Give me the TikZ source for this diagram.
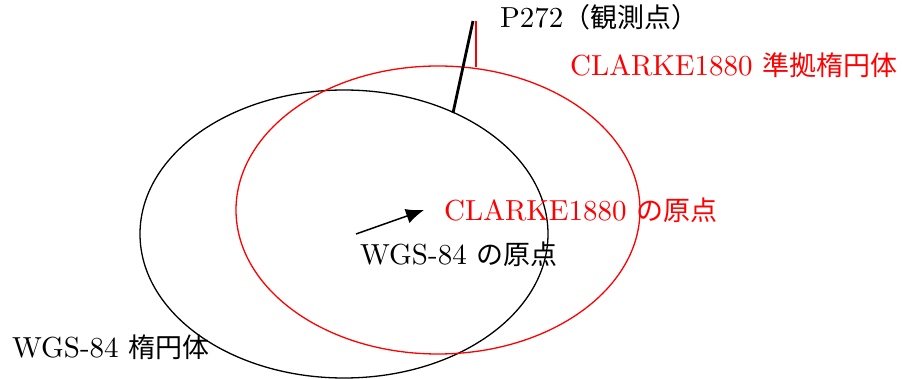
\documentclass[tikz,border=0pt]{standalone}
\usepackage{fontspec}
\usetikzlibrary{arrows.meta}
\setmainfont{lmroman10-regular.otf}
\newfontfamily\cjk{Noto Sans CJK JP}[Scale=0.93]
\tikzset{lbl/.style={inner sep=0pt, anchor=base west, font=\fontsize{29}{34}\selectfont}}
\begin{document}
\begin{tikzpicture}[x=1pt,y=-1pt]
\useasboundingbox (0,0) rectangle (902,379);
\draw[line width=1.3pt] (344,234) ellipse [x radius=204, y radius=144];
\draw[red, line width=1.3pt] (438,210) ellipse [x radius=202, y radius=144];
\coordinate (pb) at (453,113);
\coordinate (pt) at (473,21);
\draw[line width=2.8pt] (pb) -- (pt);
\coordinate (rb) at (476,67);
\coordinate (rt) at (476,21);
\draw[red, line width=2.4pt] (rb) -- (rt);
\coordinate (a0) at (356,234);
\coordinate (a1) at (424,210);
\draw[line width=1.5pt, -{Latex[length=18pt,width=15pt]}] (a0) -- (a1);
\node[lbl] (p272) at (500,28) {P272{\cjk（観測点）}};
\node[lbl, red] (clk) at (570,76) {CLARKE1880 {\cjk 準拠楕円体}};
\node[lbl, red] (clo) at (444,221) {CLARKE1880 {\cjk の原点}};
\node[lbl] (wgo) at (360,265) {WGS-84 {\cjk の原点}};
\node[lbl] (wge) at (12,357) {WGS-84 {\cjk 楕円体}};
\end{tikzpicture}
\end{document}
